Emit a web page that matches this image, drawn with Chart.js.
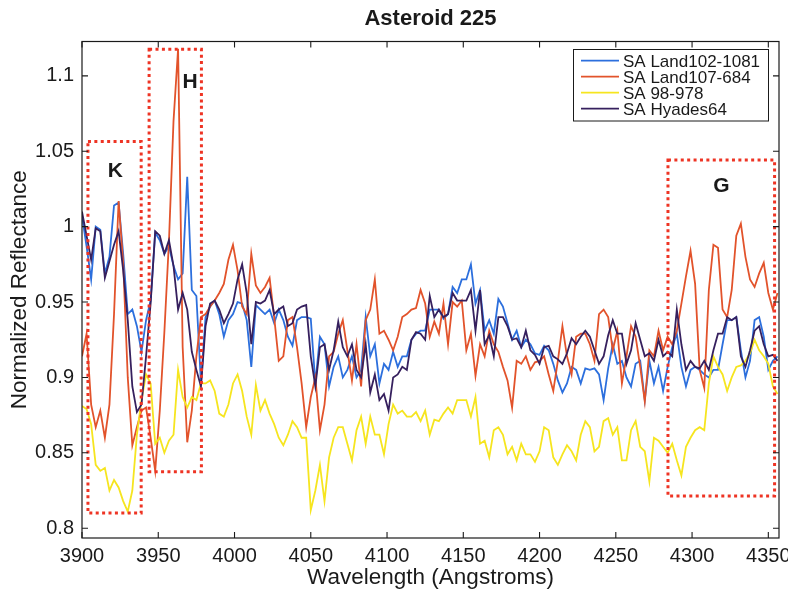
<!DOCTYPE html>
<html>
<head>
<meta charset="utf-8">
<script src="https://cdn.jsdelivr.net/npm/chart.js@4.4.1/dist/chart.umd.min.js"></script>
<style>
  html, body { margin: 0; padding: 0; background: #ffffff; }
  #wrap { width: 788px; height: 589px; }
</style>
</head>
<body>
<div id="wrap"><canvas id="chart" width="788" height="589"></canvas></div>
<script>
// Sample grid: one reflectance sample every 3 Angstroms from 3900 to 4356.
const wavelengths = Array.from({ length: 153 }, (_, i) => 3900 + 3 * i);

const seriesNames = ['SA Land102-1081', 'SA Land107-684', 'SA 98-978', 'SA Hyades64'];
const seriesColors = ['#2c6fdd', '#e2532b', '#f6e51f', '#36205e'];

const land102 = [
  1.007, 0.987, 0.965, 1.000, 0.998, 0.969, 0.980, 1.014, 1.016, 0.982,
  0.942, 0.945, 0.934, 0.917, 0.938, 0.951, 0.996, 0.991, 0.982, 0.987,
  0.974, 0.965, 0.969, 1.033, 0.958, 0.954, 0.896, 0.940, 0.947, 0.951,
  0.942, 0.927, 0.938, 0.942, 0.950, 0.949, 0.938, 0.907, 0.948,
  0.945, 0.942, 0.945, 0.936, 0.945, 0.938, 0.927, 0.921, 0.938, 0.940,
  0.940, 0.939, 0.896, 0.927, 0.922, 0.894, 0.907, 0.914, 0.900, 0.905,
  0.914, 0.900, 0.905, 0.940, 0.914, 0.922, 0.896, 0.909, 0.905, 0.917,
  0.907, 0.914, 0.914, 0.925, 0.929, 0.931, 0.931, 0.945, 0.945,
  0.945, 0.939, 0.942, 0.960, 0.956, 0.965, 0.965, 0.975, 0.949, 0.958,
  0.931, 0.938, 0.929, 0.952, 0.947, 0.936, 0.925, 0.931, 0.920, 0.925,
  0.922, 0.916, 0.915, 0.921, 0.918, 0.909, 0.898, 0.890, 0.896, 0.907,
  0.905, 0.896, 0.906, 0.905, 0.906, 0.902, 0.885, 0.906,
  0.922, 0.909, 0.911, 0.900, 0.894, 0.909, 0.911, 0.885, 0.911, 0.896,
  0.907, 0.891, 0.907, 0.920, 0.929, 0.907, 0.894, 0.905, 0.907, 0.905,
  0.902, 0.900, 0.905, 0.905, 0.922, 0.938, 0.938, 0.940, 0.918, 0.900,
  0.911, 0.938, 0.940, 0.927, 0.905, 0.911, 0.914
];

const land107 = [
  0.914, 0.929, 0.882, 0.867, 0.878, 0.860, 0.882, 0.942, 1.017, 0.976,
  0.900, 0.855, 0.867, 0.878, 0.880, 0.860, 0.838, 0.878, 0.930, 0.990,
  1.070, 1.118, 0.920, 0.857, 0.878, 0.914, 0.940, 0.942, 0.947, 0.951,
  0.956, 0.962, 0.978, 0.988, 0.971, 0.947, 0.942, 0.982, 0.961,
  0.956, 0.960, 0.966, 0.940, 0.911, 0.914, 0.938, 0.940, 0.920, 0.896,
  0.867, 0.887, 0.900, 0.865, 0.882, 0.914, 0.917, 0.929, 0.938, 0.918,
  0.898, 0.922, 0.894, 0.938, 0.945, 0.965, 0.929, 0.931, 0.925, 0.918,
  0.927, 0.940, 0.942, 0.945, 0.946, 0.958, 0.949, 0.927, 0.937,
  0.929, 0.949, 0.922, 0.950, 0.947, 0.951, 0.918, 0.929, 0.901, 0.922,
  0.914, 0.931, 0.922, 0.917, 0.907, 0.898, 0.880, 0.911, 0.909, 0.914,
  0.905, 0.910, 0.911, 0.914, 0.902, 0.891, 0.911, 0.934, 0.914, 0.902,
  0.927, 0.929, 0.929, 0.922, 0.911, 0.942, 0.945, 0.940,
  0.918, 0.931, 0.896, 0.914, 0.934, 0.927, 0.907, 0.884, 0.918, 0.914,
  0.931, 0.918, 0.927, 0.922, 0.931, 0.949, 0.967, 0.984, 0.962, 0.905,
  0.893, 0.958, 0.988, 0.986, 0.945, 0.940, 0.958, 0.994, 1.002, 0.980,
  0.965, 0.960, 0.969, 0.976, 0.956, 0.945, 0.956
];

const sa98 = [
  0.881, 0.879, 0.869, 0.842, 0.838, 0.840, 0.825, 0.832, 0.827, 0.818,
  0.811, 0.825, 0.862, 0.885, 0.902, 0.896, 0.856, 0.860, 0.850, 0.858,
  0.862, 0.905, 0.887, 0.880, 0.887, 0.885, 0.896, 0.896, 0.898, 0.891,
  0.876, 0.874, 0.882, 0.896, 0.902, 0.891, 0.874, 0.862, 0.895,
  0.878, 0.885, 0.876, 0.869, 0.860, 0.855, 0.862, 0.871, 0.867, 0.860,
  0.860, 0.812, 0.825, 0.842, 0.818, 0.847, 0.860, 0.867, 0.867, 0.856,
  0.845, 0.865, 0.874, 0.856, 0.874, 0.862, 0.862, 0.849, 0.869, 0.882,
  0.876, 0.878, 0.874, 0.874, 0.877, 0.871, 0.878, 0.862, 0.872,
  0.871, 0.876, 0.880, 0.876, 0.885, 0.885, 0.885, 0.874, 0.887, 0.856,
  0.858, 0.847, 0.865, 0.867, 0.862, 0.849, 0.854, 0.845, 0.856, 0.849,
  0.849, 0.844, 0.851, 0.867, 0.865, 0.847, 0.842, 0.849, 0.855, 0.851,
  0.845, 0.862, 0.871, 0.867, 0.851, 0.854, 0.871, 0.873,
  0.862, 0.867, 0.845, 0.845, 0.865, 0.871, 0.854, 0.851, 0.831, 0.860,
  0.858, 0.854, 0.850, 0.856, 0.845, 0.835, 0.854, 0.860, 0.865, 0.867,
  0.865, 0.896, 0.914, 0.907, 0.902, 0.891, 0.900, 0.907, 0.908, 0.911,
  0.916, 0.925, 0.918, 0.914, 0.909, 0.894, 0.889
];

const hyades64 = [
  1.010, 0.994, 0.978, 0.999, 0.997, 0.966, 0.977, 0.988, 0.997, 0.971,
  0.938, 0.894, 0.877, 0.882, 0.914, 0.949, 0.997, 0.994, 0.982, 0.991,
  0.974, 0.945, 0.956, 0.945, 0.917, 0.905, 0.894, 0.934, 0.949, 0.951,
  0.945, 0.936, 0.942, 0.949, 0.965, 0.975, 0.956, 0.922, 0.950,
  0.949, 0.951, 0.958, 0.942, 0.945, 0.947, 0.934, 0.936, 0.945, 0.947,
  0.948, 0.914, 0.894, 0.920, 0.922, 0.905, 0.918, 0.937, 0.920, 0.914,
  0.922, 0.905, 0.900, 0.922, 0.890, 0.902, 0.885, 0.889, 0.878, 0.900,
  0.902, 0.907, 0.905, 0.925, 0.930, 0.929, 0.925, 0.954, 0.940,
  0.945, 0.940, 0.942, 0.956, 0.951, 0.951, 0.951, 0.958, 0.931, 0.958,
  0.922, 0.928, 0.914, 0.940, 0.940, 0.934, 0.925, 0.926, 0.920, 0.931,
  0.918, 0.915, 0.909, 0.920, 0.921, 0.914, 0.912, 0.909, 0.916, 0.926,
  0.922, 0.927, 0.931, 0.927, 0.918, 0.909, 0.914, 0.928,
  0.938, 0.929, 0.929, 0.909, 0.918, 0.936, 0.925, 0.914, 0.916, 0.911,
  0.925, 0.914, 0.917, 0.914, 0.945, 0.922, 0.905, 0.911, 0.907, 0.906,
  0.911, 0.905, 0.918, 0.929, 0.929, 0.940, 0.938, 0.940, 0.914, 0.907,
  0.918, 0.931, 0.934, 0.922, 0.914, 0.915, 0.911
];

const xTicks = [3900, 3950, 4000, 4050, 4100, 4150, 4200, 4250, 4300, 4350];
const yTicks = [0.8, 0.85, 0.9, 0.95, 1, 1.05, 1.1];

// Absorption bands outlined with dotted boxes (wavelength / reflectance extents)
const bandNames  = ['K', 'H', 'G'];
const bandStart  = [3903.9, 3944.0, 4284.2];
const bandEnd    = [3938.8, 3978.3, 4354.1];
const bandTop    = [1.0564, 1.1176, 1.0442];
const bandBottom = [0.8100, 0.8375, 0.8214];
const bandLabelX = [3921.8, 3970.8, 4319.2];
const bandLabelY = [1.0365, 1.0956, 1.0265];

const FONT = '"Liberation Sans", Arial, Helvetica, sans-serif';
const INK = '#1a1a1a';
Chart.defaults.font.family = FONT;
Chart.defaults.color = INK;

const allSeries = [land102, land107, sa98, hyades64];

const datasets = allSeries.map((vals, k) => ({
  label: seriesNames[k],
  data: wavelengths.map((w, i) => ({ x: w, y: vals[i] })),
  borderColor: seriesColors[k],
  backgroundColor: seriesColors[k],
  borderWidth: 1.8,
  pointRadius: 0,
  tension: 0,
  fill: false,
  order: allSeries.length - k
}));

// Dotted band boxes and their letters, drawn on top of the spectra.
const bandPlugin = {
  id: 'bands',
  afterDatasetsDraw(chart) {
    const { ctx, scales: { x, y } } = chart;
    ctx.save();
    ctx.strokeStyle = '#ee3424';
    ctx.lineWidth = 3;
    ctx.lineCap = 'butt';
    ctx.setLineDash([3, 3.4]);
    bandNames.forEach((name, i) => {
      const x0 = x.getPixelForValue(bandStart[i]);
      const x1 = x.getPixelForValue(bandEnd[i]);
      const y0 = y.getPixelForValue(bandTop[i]);
      const y1 = y.getPixelForValue(bandBottom[i]);
      ctx.strokeRect(x0, y0, x1 - x0, y1 - y0);
    });
    ctx.setLineDash([]);
    ctx.fillStyle = INK;
    ctx.font = 'bold 21px ' + FONT;
    ctx.textAlign = 'center';
    ctx.textBaseline = 'middle';
    bandNames.forEach((name, i) => {
      ctx.fillText(name, x.getPixelForValue(bandLabelX[i]), y.getPixelForValue(bandLabelY[i]));
    });
    ctx.restore();
  }
};

// Axes box with inward tick marks on all four sides, plus the legend box.
const framePlugin = {
  id: 'frame',
  afterDraw(chart) {
    const { ctx, chartArea: a, scales: { x, y } } = chart;
    ctx.save();
    ctx.strokeStyle = INK;
    ctx.lineWidth = 1.1;
    const tl = 6;
    ctx.beginPath();
    xTicks.forEach(v => {
      const p = x.getPixelForValue(v);
      ctx.moveTo(p, a.bottom); ctx.lineTo(p, a.bottom - tl);
      ctx.moveTo(p, a.top); ctx.lineTo(p, a.top + tl);
    });
    yTicks.forEach(v => {
      const p = y.getPixelForValue(v);
      ctx.moveTo(a.left, p); ctx.lineTo(a.left + tl, p);
      ctx.moveTo(a.right, p); ctx.lineTo(a.right - tl, p);
    });
    ctx.stroke();
    ctx.lineWidth = 1.2;
    ctx.strokeRect(a.left, a.top, a.right - a.left, a.bottom - a.top);

    // legend
    const lx = 573.5, ly = 49.5, lw = 195, lh = 71.5;
    ctx.fillStyle = '#ffffff';
    ctx.fillRect(lx, ly, lw, lh);
    ctx.lineWidth = 1;
    ctx.strokeStyle = INK;
    ctx.strokeRect(lx, ly, lw, lh);
    ctx.font = '17px ' + FONT;
    ctx.textAlign = 'left';
    ctx.textBaseline = 'alphabetic';
    chart.data.datasets.forEach((ds, i) => {
      const rowY = 60.7 + 16 * i;
      ctx.strokeStyle = ds.borderColor;
      ctx.lineWidth = 1.8;
      ctx.beginPath();
      ctx.moveTo(581, rowY);
      ctx.lineTo(619, rowY);
      ctx.stroke();
      ctx.fillStyle = INK;
      ctx.fillText(ds.label, 623, rowY + 6.2);
    });
    ctx.restore();
  }
};

new Chart(document.getElementById('chart'), {
  type: 'line',
  data: { datasets },
  plugins: [bandPlugin, framePlugin],
  options: {
    responsive: false,
    animation: false,
    devicePixelRatio: 1,
    parsing: false,
    normalized: true,
    layout: { padding: { left: 0, right: 9, top: 0, bottom: 0 } },
    plugins: {
      legend: { display: false },
      tooltip: { enabled: false },
      title: {
        display: true,
        text: 'Asteroid 225',
        fullSize: false,
        color: INK,
        font: { size: 22, weight: 'bold', lineHeight: 1.2 },
        padding: { top: 6, bottom: 9.1 }
      }
    },
    scales: {
      x: {
        type: 'linear',
        min: 3900,
        max: 4357,
        afterBuildTicks: s => { s.ticks = xTicks.map(v => ({ value: v })); },
        afterFit: s => { s.height = 51; s.paddingLeft = 0; s.paddingRight = 0; },
        grid: { display: false, drawTicks: false },
        border: { display: false },
        ticks: {
          autoSkip: false,
          maxRotation: 0,
          padding: 6,
          color: INK,
          font: { size: 20 },
          callback: v => String(v)
        },
        title: {
          display: true,
          text: 'Wavelength (Angstroms)',
          color: INK,
          font: { size: 22.5, lineHeight: 1 },
          padding: 0
        }
      },
      y: {
        type: 'linear',
        min: 0.7935,
        max: 1.1228,
        afterBuildTicks: s => { s.ticks = yTicks.map(v => ({ value: v })); },
        afterFit: s => { s.width = 82; s.paddingTop = 0; s.paddingBottom = 0; },
        grid: { display: false, drawTicks: false },
        border: { display: false },
        ticks: {
          padding: 8,
          color: INK,
          font: { size: 20 },
          callback: v => String(+Number(v).toFixed(2))
        },
        title: {
          display: true,
          text: 'Normalized Reflectance',
          color: INK,
          font: { size: 22.5, lineHeight: 1 },
          padding: { top: 9, bottom: 0 }
        }
      }
    }
  }
});
</script>
</body>
</html>
